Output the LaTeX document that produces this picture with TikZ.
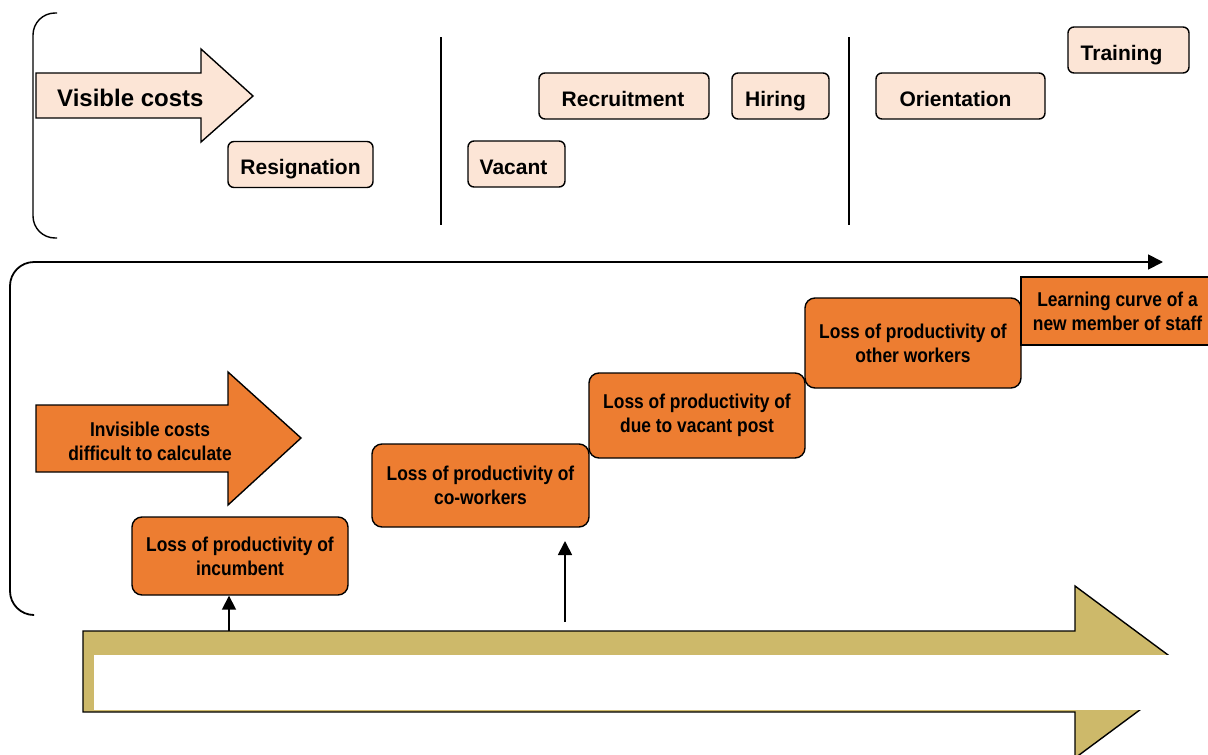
\documentclass[tikz,border=0pt]{standalone}
\usepackage{fontspec}
\setmainfont{Liberation Sans}
\newfontfamily\narrowfont[FakeStretch=0.87]{Liberation Sans}
\usetikzlibrary{arrows.meta}
\definecolor{peach}{RGB}{252,229,214}
\definecolor{orng}{RGB}{237,125,49}
\definecolor{khaki}{RGB}{205,185,106}
\tikzset{
  pbox/.style={draw=black, line width=1.4pt, fill=peach, rounded corners=6pt,
    minimum height=46pt, inner sep=0pt, text height=20pt, text depth=0pt,
    font=\bfseries\fontsize{21}{25}\selectfont},
  obox/.style={draw=black, line width=1.4pt, fill=orng, rounded corners=10pt,
    minimum width=216pt, inner sep=0pt, align=center,
    font=\narrowfont\bfseries\fontsize{20}{24}\selectfont},
  bigshape/.style={draw=black, line width=1.4pt},
  bracketline/.style={draw=black, line width=1.4pt},
  divider/.style={draw=black, line width=1.6pt},
  uparrow/.style={draw=black, line width=1.8pt, -{Triangle[length=14pt,width=14pt]}},
}
\begin{document}
\begin{tikzpicture}[x=1pt,y=-1pt]
\useasboundingbox (0,0) rectangle (1208,755);
\begin{scope}
\clip (0,0) rectangle (1208,755);

% ---------- top section ----------
\draw[bracketline, rounded corners=22pt] (57,13) -- (33,13) -- (33,238) -- (57,238);

\draw[bigshape, fill=peach] (36,73) -- (201,73) -- (201,49) -- (253,96) -- (201,142) -- (201,118) -- (36,118) -- cycle;
\node[anchor=base west, inner sep=0pt, font=\bfseries\fontsize{24}{28}\selectfont] (vis) at (57,106) {Visible costs};

\draw[divider] (441,37) -- (441,225);
\draw[divider] (849,37) -- (849,225);

\node[pbox, minimum width=145pt] (res) at (300.5,164.5) {Resignation};
\node[pbox, minimum width=97pt] (vacant) at (516.5,164) {\kern-6pt Vacant};
\node[pbox, minimum width=170pt] (rec) at (624,96) {\kern-2pt Recruitment};
\node[pbox, minimum width=97pt] (hir) at (780.5,96) {\kern-10pt Hiring};
\node[pbox, minimum width=169pt] (ori) at (960.5,96) {\kern-10pt Orientation};
\node[pbox, minimum width=121pt] (tra) at (1128.5,50) {\kern-14pt Training};

% ---------- middle section ----------
\coordinate (tlstart) at (33,615);
\coordinate (tltip) at (1163,262);
\draw[bracketline, line width=1.8pt, rounded corners=24pt, -{Triangle[length=15pt,width=15pt]}]
  (tlstart) -- (10,615) -- (10,262) -- (tltip);

\draw[bigshape, fill=orng] (36,405) -- (228,405) -- (228,372) -- (301,438) -- (228,505) -- (228,472) -- (36,472) -- cycle;
\node[align=center, inner sep=0pt, font=\narrowfont\bfseries\fontsize{20}{24}\selectfont] (inv) at (150,441) {Invisible costs\\difficult to calculate};

\node[obox, minimum height=78pt] (inc) at (240,556) {Loss of productivity of\\incumbent};
\node[obox, minimum width=217pt, minimum height=83pt] (cow) at (480.5,485.5) {Loss of productivity of\\co-workers};
\node[obox, minimum height=85pt] (vpost) at (697,415.5) {Loss of productivity of\\due to vacant post};
\node[obox, minimum height=90pt] (oth) at (913,343) {Loss of productivity of\\other workers};
\node[obox, rounded corners=0pt, minimum width=193pt, minimum height=68pt] (learn) at (1117.5,311) {Learning curve of a\\new member of staff};

% ---------- bottom big arrow ----------
\draw[bigshape, fill=khaki] (83,631) -- (1075,631) -- (1075,586) -- (1191,672) -- (1075,758) -- (1075,712) -- (83,712) -- cycle;
\fill[white] (94,655) rectangle (1210,710);

\coordinate (a1) at (229,631);
\draw[uparrow] (a1) -- (a1 |- inc.south);
\coordinate (a2s) at (565,622);
\coordinate (a2e) at (565,541);
\draw[uparrow] (a2s) -- (a2e);
\end{scope}
\end{tikzpicture}
\end{document}
